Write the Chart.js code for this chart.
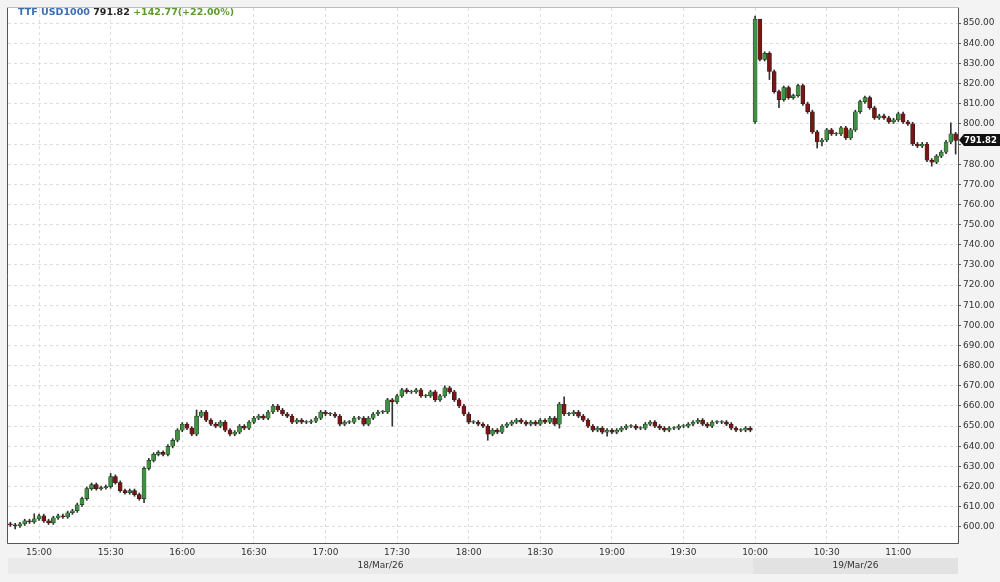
<!DOCTYPE html>
<html><head><meta charset="utf-8">
<script src="https://cdn.jsdelivr.net/npm/chart.js@4.4.1/dist/chart.umd.min.js"></script>
<style>
html,body{margin:0;padding:0;background:#f3f3f3;}
#wrap{position:relative;width:1000px;height:582px;}
#title{position:absolute;left:18px;top:6px;font:bold 9.5px "DejaVu Sans",sans-serif;white-space:nowrap;}
</style></head><body>
<div id="wrap"><canvas id="c" width="1000" height="582"></canvas>
<div id="title"><span style="color:#3b6db3">TTF USD1000</span> <span style="color:#222">791.82</span> <span style="color:#5b9b2b">+142.77(+22.00%)</span></div></div>
<script>
// Day 1: 18/Mar/26, 2-minute candles from 14:48 to 19:58
const day1Start = "14:48";
const day1Open0 = 601.5;
const day1Close = [601,600.5,601.5,603,602.5,604,605.5,603,602,604.5,605.5,605,607,608,611,614,619,621,619,619.5,620,625,622,618,617,618,616,614,629,633,636,637,636,640,643,648,651,649,646,655,657,653,651,650,652,648,646,647,650,649,652,654,655,654,657,660,658,656,655,652,653,652,652,652.5,654,657,656,656,655,651,652,652,654,654,651,654,656,657,657,663,662,665,668,667,667,668,665,665,667,663,665,669,667,663,660,656,652,652,651,650,646,648,647,650,651,652,653,652,651,652,651,653,652,654,651,661,656,656,657,655,653,650,648,649,647,648,647,648,649,650,650,649,649,651,652,650,649,648,649,649,650,650,651,652,653,651,650,652,652,652,651,649,648,648,649,648];
// Day 2: 19/Mar/26, 2-minute candles from 10:00
const day2Start = "10:00";
const day2Open0 = 801;
const day2Close = [852,832,835,826,816,812,818,813,814,819,810,806,796,791,792,797,795,795,798,793,797,806,811,813,808,803,804,803,801,802,805,801,800,790,789,790,782,781,784,786,791,795,791.82];
// notable wick extremes: [day, index, high, low]
const wickSpikes = [[1,1,null,599],[1,5,606.5,null],[1,21,626.5,null],[1,28,null,612],[1,29,634,null],[1,39,658,null],[1,80,null,650],[1,91,670,null],[1,100,null,643],[1,115,null,649],[1,116,664.5,null],[1,125,null,645],
 [2,0,853.5,null],[2,1,848,null],[2,3,null,822],[2,5,null,808],[2,13,null,788],[2,14,null,789],[2,37,null,779],[2,41,800.5,null],[2,42,null,785]];
const yTicks = [600,610,620,630,640,650,660,670,680,690,700,710,720,730,740,750,760,770,780,790,800,810,820,830,840,850];
const lastPrice = 791.82;

function times(start,n){const [h,m]=start.split(':').map(Number);const out=[];for(let i=0;i<n;i++){const t=h*60+m+2*i;out.push(String(Math.floor(t/60)).padStart(2,'0')+':'+String(t%60).padStart(2,'0'));}return out;}
const labels = times(day1Start,day1Close.length).concat(times(day2Start,day2Close.length));
const opens = [], closes = [], highs = [], lows = [];
[[day1Open0,day1Close,1],[day2Open0,day2Close,2]].forEach(([o0,cl,d])=>{
  cl.forEach((c,i)=>{const o=i===0?o0:cl[i-1];let h=Math.max(o,c)+0.8,l=Math.min(o,c)-0.8;
    wickSpikes.forEach(s=>{if(s[0]===d&&s[1]===i){if(s[2]!==null)h=s[2];if(s[3]!==null)l=s[3];}});
    opens.push(o);closes.push(c);highs.push(h);lows.push(l);});
});
const day2Index = day1Close.length;
const bodies = opens.map((o,i)=>[o,closes[i]===o?o+0.3:closes[i]]);
const wicks = highs.map((h,i)=>[lows[i],h]);
const bodyColors = opens.map((o,i)=>closes[i]>=o?'#3d9140':'#7a1515');

const decor = {
  id:'decor',
  beforeDraw(ch){const {ctx,chartArea:a}=ch;ctx.save();ctx.fillStyle='#fff';ctx.fillRect(a.left,a.top,a.right-a.left,a.bottom-a.top);ctx.restore();},
  afterDraw(ch){
    const {ctx,chartArea:a,scales:{x,y}}=ch;ctx.save();
    ctx.strokeStyle='#bbb';ctx.lineWidth=1;ctx.strokeRect(a.left-0.5,a.top-0.5,a.right-a.left+1,a.bottom-a.top+1);
    ctx.strokeStyle='#555';ctx.beginPath();ctx.moveTo(a.left-0.5,a.top);ctx.lineTo(a.left-0.5,a.bottom+0.5);ctx.lineTo(a.right+0.5,a.bottom+0.5);ctx.lineTo(a.right+0.5,a.top);ctx.stroke();
    const split = x.getPixelForValue(day2Index)-2;
    ctx.fillStyle='#eaeaea';ctx.fillRect(a.left,558,split-a.left,16);
    ctx.fillStyle='#e2e2e2';ctx.fillRect(split,558,a.right-split,16);
    ctx.fillStyle='#333';ctx.font='9px "DejaVu Sans"';ctx.textAlign='center';ctx.textBaseline='middle';
    ctx.fillText('18/Mar/26',(a.left+split)/2,566);ctx.fillText('19/Mar/26',(split+a.right)/2,566);
    const py=Math.round(y.getPixelForValue(lastPrice));
    ctx.fillStyle='#111';ctx.beginPath();ctx.moveTo(a.right+1,py);ctx.lineTo(a.right+6,py-6);ctx.lineTo(a.right+42,py-6);ctx.lineTo(a.right+42,py+6);ctx.lineTo(a.right+6,py+6);ctx.closePath();ctx.fill();
    ctx.fillStyle='#fff';ctx.font='bold 8.5px "DejaVu Sans"';ctx.textAlign='left';ctx.fillText(lastPrice.toFixed(2),a.right+6,py+0.5);
    ctx.restore();}
};

new Chart(document.getElementById('c'),{
  type:'bar',
  data:{labels,datasets:[
    {data:wicks,backgroundColor:'#333',barThickness:1,grouped:false,order:2},
    {data:bodies,backgroundColor:bodyColors,borderColor:'#1a1a1a',borderWidth:0.5,borderSkipped:false,barThickness:4,grouped:false,order:1}
  ]},
  options:{responsive:false,animation:false,events:[],
    layout:{padding:{left:8,top:8,right:0,bottom:24}},
    plugins:{legend:{display:false},tooltip:{enabled:false}},
    scales:{
      x:{type:'category',offset:true,grid:{offset:false,color:'#dedede',drawTicks:false},border:{display:false,dash:[3,3]},
        afterFit(s){s.height=15;},
        ticks:{autoSkip:false,maxRotation:0,padding:4,color:'#333',font:{family:'DejaVu Sans',size:9},
          callback(v){const l=this.getLabelForValue(v);return l.endsWith(':00')||l.endsWith(':30')?l:null;}}},
      y:{position:'right',min:592,max:857.5,afterFit(s){s.width=42;},
        afterBuildTicks(s){s.ticks=yTicks.map(v=>({value:v}));},
        grid:{color:'#dedede',tickColor:'#555',tickLength:3},border:{display:false,dash:[3,3]},
        ticks:{padding:2,color:'#333',font:{family:'DejaVu Sans',size:9},callback:v=>v.toFixed(2)}}
    }},
  plugins:[decor]
});
</script></body></html>
